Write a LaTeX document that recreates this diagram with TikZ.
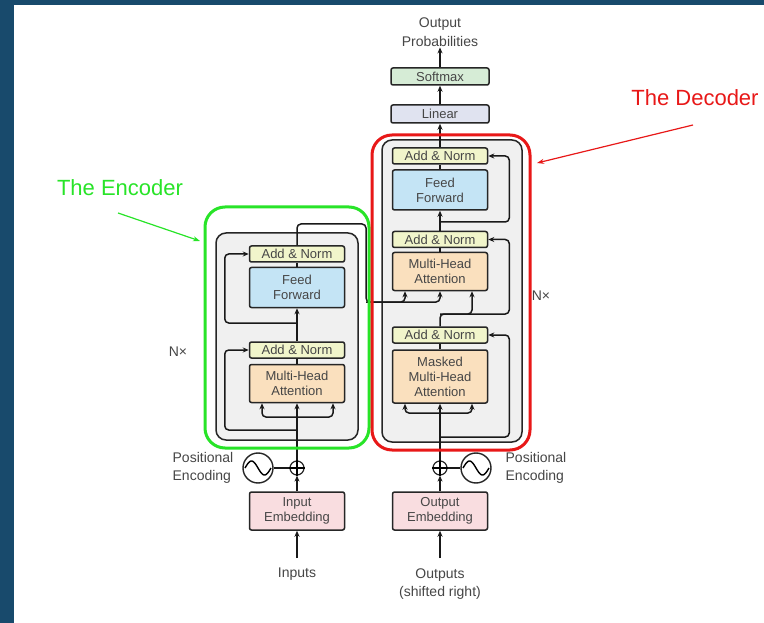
\documentclass[tikz,border=0pt]{standalone}
\usepackage{fontspec}
\setmainfont{Liberation Sans}
\usetikzlibrary{arrows.meta}
\definecolor{slide}{RGB}{24,74,108}
\definecolor{inkgray}{RGB}{70,70,70}
\definecolor{normfill}{RGB}{241,245,203}
\definecolor{fffill}{RGB}{196,228,245}
\definecolor{attfill}{RGB}{250,224,190}
\definecolor{embfill}{RGB}{249,221,224}
\definecolor{linfill}{RGB}{224,227,240}
\definecolor{softfill}{RGB}{214,236,214}
\definecolor{stackfill}{RGB}{240,240,240}
\definecolor{encgreen}{RGB}{40,228,40}
\definecolor{decred}{RGB}{232,24,24}
\begin{document}
\begin{tikzpicture}[x=1pt,y=-1pt,
    layer/.style={draw=black!85,line width=1.5pt,rounded corners=2pt,minimum width=95pt,
      text=inkgray,font=\fontsize{13}{15}\selectfont,align=center,inner sep=0pt},
    addnorm/.style={layer,fill=normfill,minimum height=16pt},
    feedfwd/.style={layer,fill=fffill,minimum height=40pt},
    attn/.style={layer,fill=attfill,minimum height=38pt},
    embed/.style={layer,fill=embfill,minimum height=38pt},
    stack/.style={draw=black!85,line width=1.5pt,fill=stackfill,rounded corners=10pt},
    label/.style={text=inkgray,font=\fontsize{14}{18.5}\selectfont,align=center,inner sep=1pt},
    wire/.style={line width=1.5pt,black!90},
    arr/.style={wire,-{Stealth[length=6pt,width=5pt]}},
    rc/.style={rounded corners=4pt},
    oplus/.style={circle,draw=black!85,line width=1.2pt,minimum size=14pt,inner sep=0pt},
    wave/.style={circle,draw=black!85,line width=1.4pt,minimum size=30pt,inner sep=0pt}]
  \useasboundingbox (0,0) rectangle (764,623);
  \fill[white] (0,0) rectangle (764,623);
  \fill[slide] (0,0) rectangle (764,5);
  \fill[slide] (0,0) rectangle (14,623);

  % the two Nx stacks
  \node[stack,minimum width=142pt,minimum height=207pt] (encstack) at (287,336.5) {};
  \node[stack,minimum width=140pt,minimum height=302pt] (decstack) at (452,291) {};

  % encoder
  \node[addnorm] (encan2) at (297,254) {Add \& Norm};
  \node[feedfwd] (encff) at (297,287.5) {Feed\\Forward};
  \node[addnorm] (encan1) at (297,350) {Add \& Norm};
  \node[attn] (encmha) at (297,383.5) {Multi-Head\\Attention};
  \node[oplus] (encplus) at (297,468) {};
  \node[wave] (encsine) at (258,468) {};
  \node[embed] (inemb) at (297,511) {Input\\Embedding};
  \node[label,align=left] (encpos) at (203,468) {Positional\\Encoding};
  \node[label] (inputs) at (297,574) {Inputs};
  \node[label] (encnx) at (178,352) {N×};

  % decoder
  \node[addnorm] (decan3) at (440,156) {Add \& Norm};
  \node[feedfwd] (decff) at (440,190) {Feed\\Forward};
  \node[addnorm] (decan2) at (440,239.5) {Add \& Norm};
  \node[attn] (decmha) at (440,271.5) {Multi-Head\\Attention};
  \node[addnorm] (decan1) at (440,335) {Add \& Norm};
  \node[attn,minimum height=53pt] (decmmha) at (440,376.5) {Masked\\Multi-Head\\Attention};
  \node[oplus] (decplus) at (440,468) {};
  \node[wave] (decsine) at (476,468) {};
  \node[embed] (outemb) at (440,511) {Output\\Embedding};
  \node[label,align=left] (decpos) at (536,468) {Positional\\Encoding};
  \node[label] (outputs) at (440,584) {Outputs\\(shifted right)};
  \node[label] (decnx) at (541,296) {N×};
  \node[layer,fill=linfill,minimum width=98pt,minimum height=18pt] (linear) at (440,114) {Linear};
  \node[layer,fill=softfill,minimum width=98pt,minimum height=17pt] (softmax) at (440,76.5) {Softmax};
  \node[label] (outprob) at (440,32) {Output\\Probabilities};

  % plus signs and sine waves
  \draw[line width=1.2pt] (encplus.north) -- (encplus.south) (encplus.west) -- (encplus.east);
  \draw[line width=1.2pt] (decplus.north) -- (decplus.south) (decplus.west) -- (decplus.east);
  \draw[line width=1.4pt] plot[domain=-1:1,smooth,samples=30] ({258+13*\x},{468+7*sin(180*\x)});
  \draw[line width=1.4pt] plot[domain=-1:1,smooth,samples=30] ({476+13*\x},{468+7*sin(180*\x)});

  % encoder wires
  \coordinate (inbot) at (297,558);
  \coordinate (encsplit) at (297,417);
  \coordinate (encres1) at (297,430);
  \coordinate (encres2) at (297,323);
  \coordinate (enctop) at (297,224);
  \coordinate (encgap) at (366,302);
  \draw[arr] (inbot) -- (inemb);
  \draw[arr] (inemb) -- (encplus);
  \draw[wire] (encsine) -- (encplus);
  \draw[wire] (encplus) -- (encsplit);
  \draw[arr] (encsplit) -- (encmha);
  \draw[arr,rc] (encsplit) -| ([xshift=-35pt]encmha.south);
  \draw[arr,rc] (encsplit) -| ([xshift=36pt]encmha.south);
  \draw[arr,rc] (encres1) -| ([xshift=-24pt]encan1.west) -- (encan1.west);
  \draw[wire] (encmha) -- (encan1);
  \draw[arr] (encan1) -- (encff);
  \draw[arr,rc] (encres2) -| ([xshift=-24pt]encan2.west) -- (encan2.west);
  \draw[wire] (encff) -- (encan2);
  \draw[arr,rc] (encan2.north) -- (enctop) -| (encgap) -| (decmha.south);
  \draw[arr,rc] (encgap) -| ([xshift=-35pt]decmha.south);

  % decoder wires
  \coordinate (outbot) at (440,558);
  \coordinate (decsplit) at (440,413);
  \coordinate (decres1) at (440,437);
  \coordinate (decq) at (440,314);
  \coordinate (decres3) at (440,222);
  \draw[arr] (outbot) -- (outemb);
  \draw[arr] (outemb) -- (decplus);
  \draw[wire] (decsine) -- (decplus);
  \draw[wire] (decplus) -- (decsplit);
  \draw[arr] (decsplit) -- (decmmha);
  \draw[arr,rc] (decsplit) -| ([xshift=-35pt]decmmha.south);
  \draw[arr,rc] (decsplit) -| ([xshift=32pt]decmmha.south);
  \draw[arr,rc] (decres1) -| ([xshift=21pt]decan1.east) -- (decan1.east);
  \draw[wire] (decmmha) -- (decan1);
  \draw[arr,rc] (decan1.north) -- (decq) -| ([xshift=32pt]decmha.south);
  \draw[arr,rc] (decq) -| ([xshift=21pt]decan2.east) -- (decan2.east);
  \draw[wire] (decmha) -- (decan2);
  \draw[arr] (decan2) -- (decff);
  \draw[arr,rc] (decres3) -| ([xshift=21pt]decan3.east) -- (decan3.east);
  \draw[wire] (decff) -- (decan3);
  \draw[arr] (decan3) -- (linear);
  \draw[arr] (linear) -- (softmax);
  \draw[arr] (softmax) -- (outprob);

  % highlight frames and callouts
  \draw[encgreen,line width=3pt,rounded corners=20pt] (205,207) rectangle (369,448);
  \draw[decred,line width=3pt,rounded corners=20pt] (372,135) rectangle (530,450);
  \node[text=encgreen,font=\fontsize{22}{24}\selectfont] (enclabel) at (120,188) {The Encoder};
  \node[text=decred,font=\fontsize{22}{24}\selectfont] (declabel) at (695,98) {The Decoder};
  \coordinate (encpoint) at (118,213);
  \coordinate (decpoint) at (693,125);
  \draw[encgreen,line width=1.2pt,-{Stealth[length=7pt,width=5pt]}] (encpoint) -- (200,241);
  \draw[decred,line width=1.2pt,-{Stealth[length=7pt,width=5pt]}] (decpoint) -- (537,163);
\end{tikzpicture}
\end{document}
